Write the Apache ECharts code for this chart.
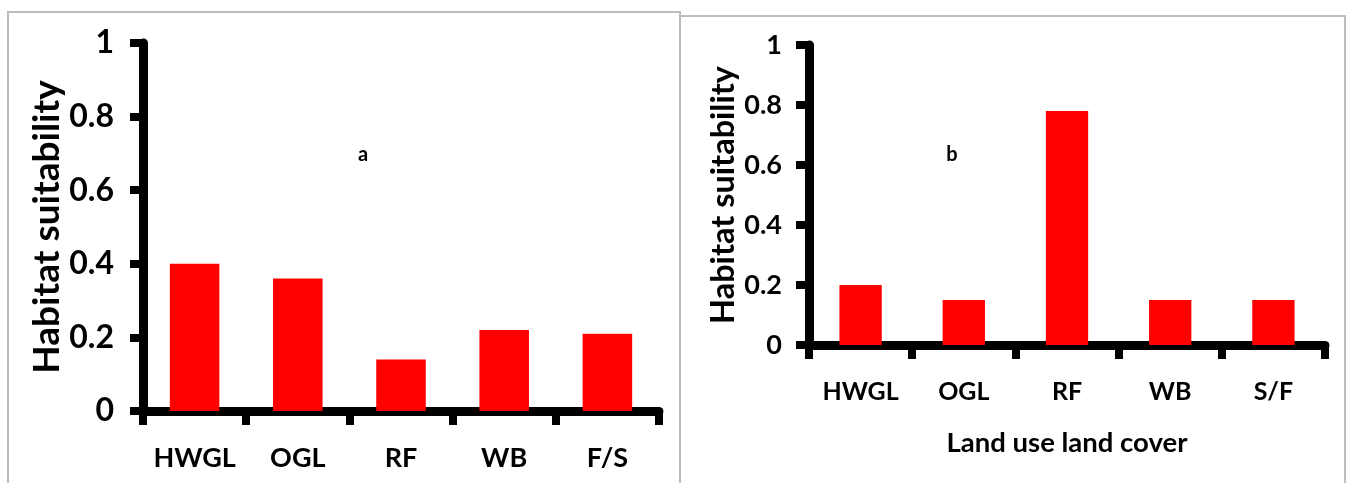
<!DOCTYPE html>
<html>
<head>
<meta charset="utf-8">
<script src="https://cdn.jsdelivr.net/npm/echarts@6/dist/echarts.min.js"></script>
<style>
html,body{margin:0;padding:0;background:#fff;}
#c{width:1349px;height:483px;}
</style>
</head>
<body>
<div id="c"></div>
<script>
// Data
var categoriesA = ['HWGL', 'OGL', 'RF', 'WB', 'F/S'];
var valuesA = [0.40, 0.36, 0.14, 0.22, 0.21];
var categoriesB = ['HWGL', 'OGL', 'RF', 'WB', 'S/F'];
var valuesB = [0.20, 0.15, 0.78, 0.15, 0.15];
var yTitle = 'Habitat suitability';
var xTitleB = 'Land use land cover';
var panelLabels = ['a', 'b'];

var FONT = 'Lato, "Open Sans", sans-serif';
var chart = echarts.init(document.getElementById('c'), null, {renderer: 'canvas'});

function xAxisCfg(idx, cats, size, nsize, name) {
  return {
    type: 'category', gridIndex: idx, data: cats, boundaryGap: true,
    axisLine: {show: true, lineStyle: {color: '#000', width: 9}},
    axisTick: {show: true, interval: 0, alignWithLabel: false, length: 14, lineStyle: {color: '#000', width: 8}},
    axisLabel: {interval: 0, color: '#000', fontFamily: FONT, fontSize: size, fontWeight: 'bold', margin: 34},
    name: name || '', nameLocation: 'middle', nameGap: 84,
    nameTextStyle: {color: '#000', fontFamily: FONT, fontSize: nsize, fontWeight: 'bold'}
  };
}
function yAxisCfg(idx, gap, size, lsize, margin) {
  return {
    type: 'value', gridIndex: idx, min: 0, max: 1, interval: 0.2,
    splitLine: {show: false},
    axisLine: {show: true, lineStyle: {color: '#000', width: 9}},
    axisTick: {show: true, length: 13, lineStyle: {color: '#000', width: 8}},
    axisLabel: {color: '#000', fontFamily: FONT, fontSize: lsize, fontWeight: 'bold', margin: margin},
    name: yTitle, nameLocation: 'middle', nameGap: gap, nameRotate: 90,
    nameTextStyle: {color: '#000', fontFamily: FONT, fontSize: size, fontWeight: 'bold'}
  };
}

chart.setOption({
  animation: false,
  backgroundColor: '#fff',
  grid: [
    {left: 143, top: 43, width: 516, height: 368},
    {left: 809, top: 45, width: 516, height: 300}
  ],
  xAxis: [xAxisCfg(0, categoriesA, 27, 27), xAxisCfg(1, categoriesB, 25, 27.5, xTitleB)],
  yAxis: [yAxisCfg(0, 68, 37, 32, 29), yAxisCfg(1, 69, 32.5, 27, 27)],
  series: [
    {type: 'bar', xAxisIndex: 0, yAxisIndex: 0, data: valuesA, barWidth: '48%', itemStyle: {color: '#ff0000'}},
    {type: 'bar', xAxisIndex: 1, yAxisIndex: 1, data: valuesB, barWidth: '41%', itemStyle: {color: '#ff0000'}}
  ],
  graphic: [
    {type: 'polyline', shape: {points: [[8, 483], [8, 12], [680, 12], [680, 483]]}, style: {stroke: '#bdbdbd', lineWidth: 2, fill: null}, silent: true},
    {type: 'polyline', shape: {points: [[680, 16], [1345, 16], [1345, 483]]}, style: {stroke: '#bdbdbd', lineWidth: 2, fill: null}, silent: true},
    {type: 'text', x: 363, y: 155, style: {text: panelLabels[0], font: 'bold 20px ' + FONT, fill: '#000', textAlign: 'center', textVerticalAlign: 'middle'}},
    {type: 'text', x: 952, y: 155, style: {text: panelLabels[1], font: 'bold 20px ' + FONT, fill: '#000', textAlign: 'center', textVerticalAlign: 'middle'}}
  ]
});
</script>
</body>
</html>
